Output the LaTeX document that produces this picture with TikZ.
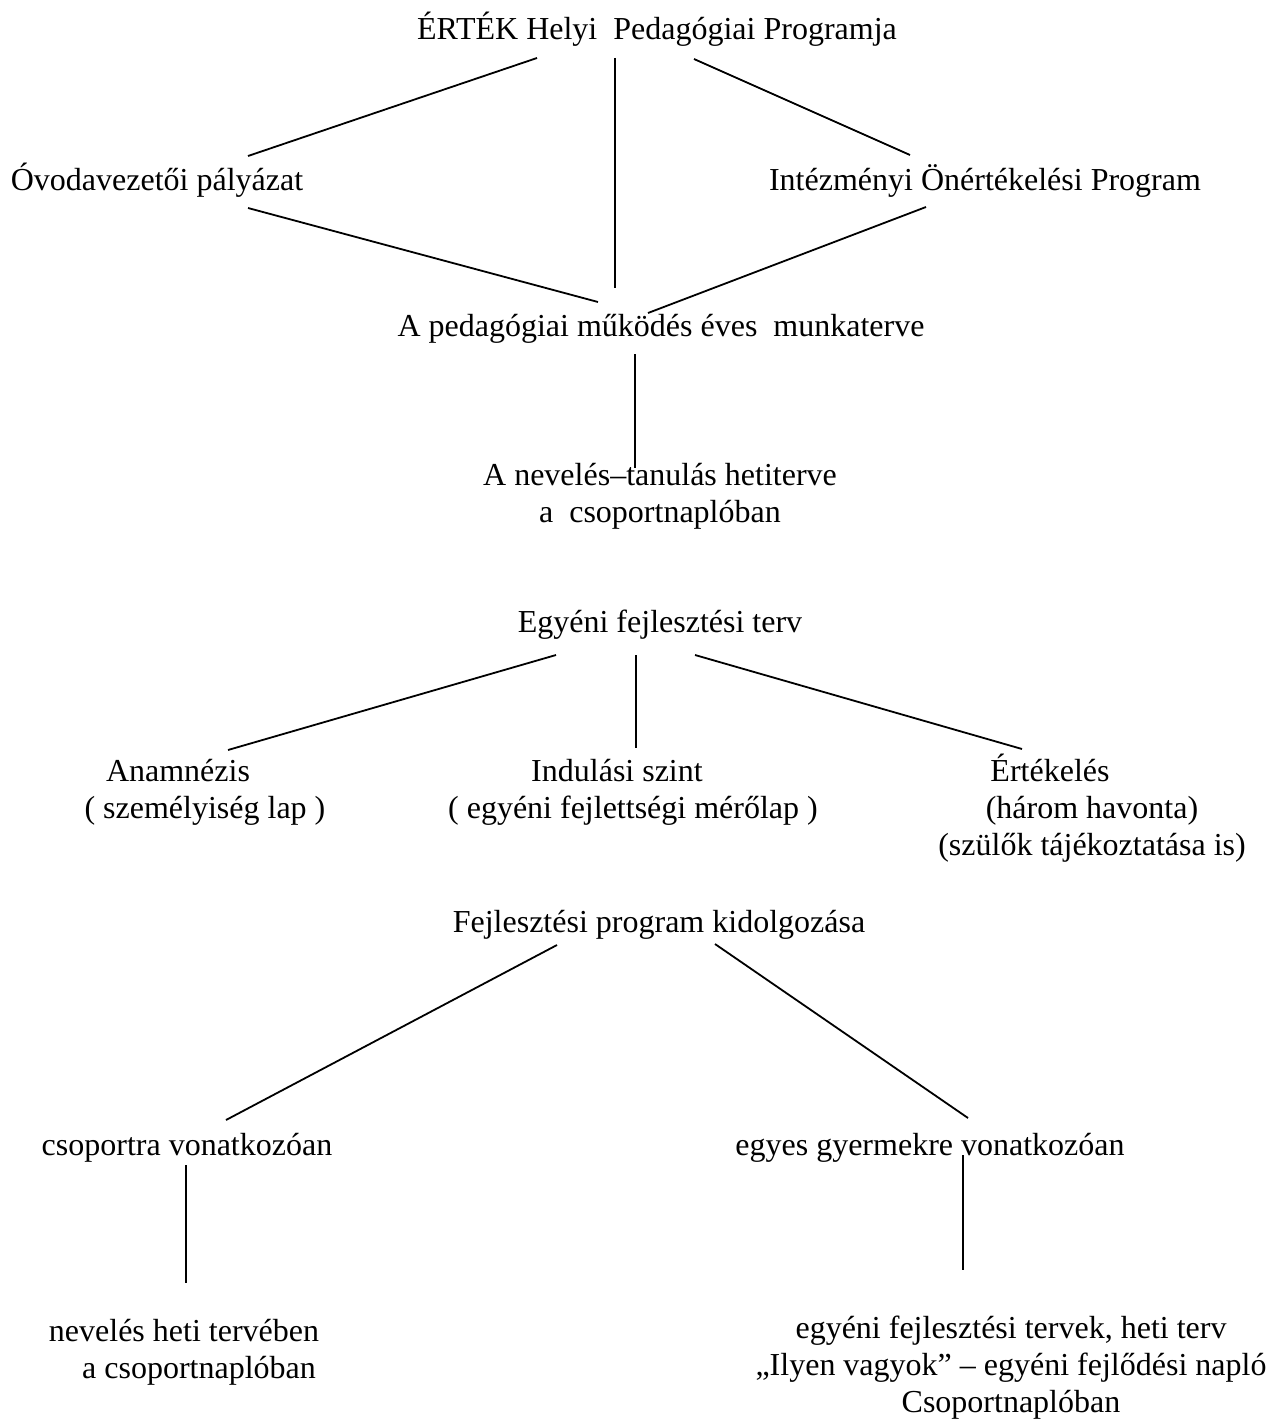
\documentclass[tikz,border=0pt]{standalone}
\usepackage{fontspec}
\setmainfont{Liberation Serif}
\usepackage{tikz}

\begin{document}
\begin{tikzpicture}[x=1pt,y=-1pt,
    lbl/.style={inner sep=0pt,outer sep=0pt,anchor=base,align=center,
                font=\fontsize{32}{37}\selectfont},
    link/.style={line width=1.8pt}]
    \useasboundingbox (0,0) rectangle (1271,1421);

    % Programs
    \node[lbl] (top)   at (657,40)  {ÉRTÉK Helyi~ Pedagógiai Programja};
    \node[lbl] (ovoda) at (157,190) {Óvodavezetői pályázat};
    \node[lbl] (onert) at (985,190) {Intézményi Önértékelési Program};
    \node[lbl] (munka) at (661,336) {A pedagógiai működés éves~ munkaterve};
    \node[lbl] (heti)  at (660,522) {A nevelés–tanulás hetiterve\\a~ csoportnaplóban};

    \draw[link] ([shift={(-120,18)}]top.base) -- ([shift={(91,-34)}]ovoda.base);
    \draw[link] ([shift={(-42,18)}]top.base) -- ([shift={(-46,-48)}]munka.base);
    \draw[link] ([shift={(37,19)}]top.base) -- ([shift={(-75,-35)}]onert.base);
    \draw[link] ([shift={(91,18)}]ovoda.base) -- ([shift={(-63,-34)}]munka.base);
    \draw[link] ([shift={(-59,17)}]onert.base) -- ([shift={(-13,-23)}]munka.base);
    \draw[link] ([shift={(-26,18)}]munka.base) -- ([shift={(-25,-54)}]heti.base);

    % Individual plan
    \node[lbl] (egyeni) at (660,632) {Egyéni fejlesztési terv};
    \node[lbl] (anam)   at (205,818) {Anamnézis\hspace*{54pt}\\( személyiség lap )};
    \node[lbl] (indul)  at (633,818) {Indulási szint\hspace*{32pt}\\( egyéni fejlettségi mérőlap )};
    \node[lbl] (ertek)  at (1092,855) {Értékelés\hspace*{84pt}\\(három havonta)\hspace*{60pt}\\(szülők tájékoztatása is)};

    \draw[link] ([shift={(-104,23)}]egyeni.base) -- ([shift={(23,-68)}]anam.base);
    \draw[link] ([shift={(-24,23)}]egyeni.base) -- ([shift={(3,-70)}]indul.base);
    \draw[link] ([shift={(35,23)}]egyeni.base) -- ([shift={(-70,-106)}]ertek.base);

    % Development program
    \node[lbl] (fejl)  at (659,932)  {Fejlesztési program kidolgozása};
    \node[lbl] (csop)  at (187,1155) {csoportra vonatkozóan};
    \node[lbl] (egyes) at (930,1155) {egyes gyermekre vonatkozóan};
    \node[lbl] (nevh)  at (199,1378) {nevelés heti tervében\hspace*{30pt}\\a csoportnaplóban};
    \node[lbl] (egyh)  at (1011,1412) {egyéni fejlesztési tervek, heti terv\\„Ilyen vagyok” – egyéni fejlődési napló\\Csoportnaplóban};

    \draw[link] ([shift={(-102,13)}]fejl.base) -- ([shift={(39,-35)}]csop.base);
    \draw[link] ([shift={(56,12)}]fejl.base) -- ([shift={(38,-37)}]egyes.base);
    \draw[link] ([shift={(-1,10)}]csop.base) -- ([shift={(-13,-95)}]nevh.base);
    \draw[link] ([shift={(33,0)}]egyes.base) -- ([shift={(-48,-142)}]egyh.base);
\end{tikzpicture}
\end{document}
